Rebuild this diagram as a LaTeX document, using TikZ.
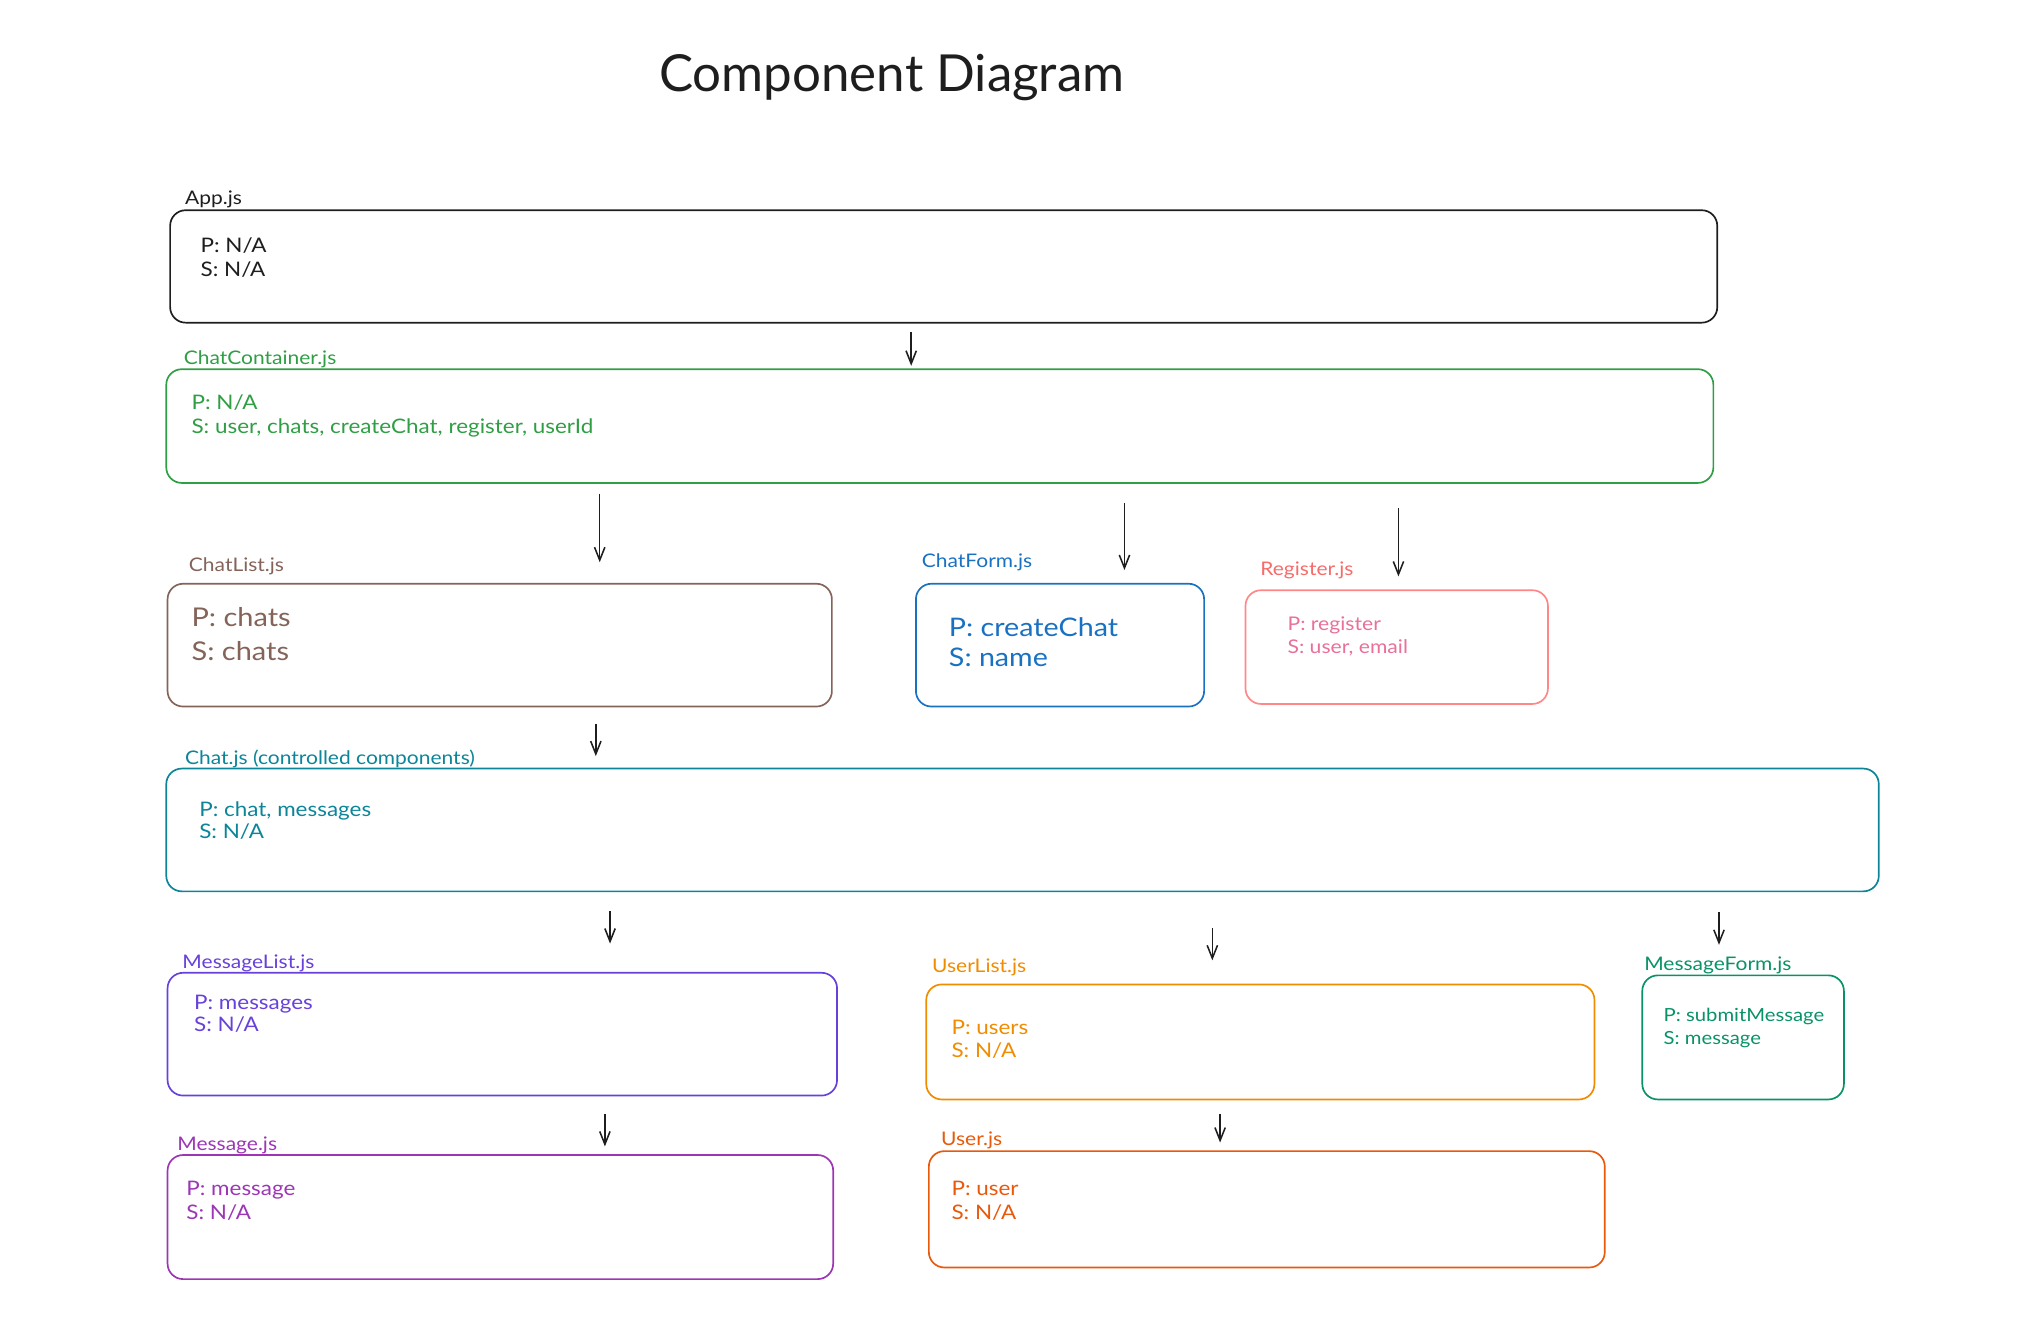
\documentclass[tikz,border=0pt]{standalone}
\usepackage{fontspec}
\setmainfont{Lato}[FakeStretch=1.12]
\newfontfamily\titlefont{Lato}
\usetikzlibrary{positioning, arrows.meta}
\usepackage{xcolor}

\definecolor{cBlack}{HTML}{1E1E1E}
\definecolor{cGreen}{HTML}{2F9E44}
\definecolor{cBrown}{HTML}{846358}
\definecolor{cBlue}{HTML}{1971C2}
\definecolor{cRed}{HTML}{FF8787}
\definecolor{cRedLbl}{HTML}{F76B6B}
\definecolor{cPink}{HTML}{E8709A}
\definecolor{cTeal}{HTML}{0C8599}
\definecolor{cViolet}{HTML}{6741D9}
\definecolor{cOrange}{HTML}{F08C00}
\definecolor{cSea}{HTML}{099268}
\definecolor{cGrape}{HTML}{9C36B5}
\definecolor{cRust}{HTML}{E8590C}

\begin{document}
\begin{tikzpicture}[x=1pt, y=-1pt,
        box/.style={draw=#1, rounded corners=12pt, line width=1.3pt, inner sep=0pt, anchor=north west},
        lbl/.style={text=#1, font=\fontsize{14.5}{16}\selectfont, inner sep=0pt},
        body/.style={text=#1, font=\fontsize{15.5}{18}\selectfont, align=left, inner sep=0pt},
        arr/.style={-{Straight Barb[length=10pt,width=8pt]}, line width=1.2pt, cBlack}]
            \useasboundingbox (0,0) rectangle (1566,1033.7);
            \node[font=\titlefont\fontsize{39.5}{44}\selectfont, text=cBlack] (title) at (690,60) {Component Diagram};

            % top level
            \node[box=cBlack, minimum width=1197pt, minimum height=87pt] (app) at (131,162) {};
            \node[lbl=cBlack, above right=1pt and 12pt of app.north west] (appL) {App.js};
            \node[body=cBlack, below right=22pt and 24pt of app.north west] (appT) {P: N/A\\S: N/A};

            \node[box=cGreen, minimum width=1197pt, minimum height=88pt] (cc) at (128,285) {};
            \node[lbl=cGreen, above right=0pt and 14pt of cc.north west] (ccL) {ChatContainer.js};
            \node[body=cGreen, font=\fontsize{15.5}{19}\selectfont, below right=20pt and 20pt of cc.north west] (ccT) {P: N/A\\S: user, chats, createChat, register, userId};

            % second row
            \node[box=cBrown, minimum width=514pt, minimum height=95pt] (clist) at (129,451) {};
            \node[lbl=cBrown, above right=6pt and 17pt of clist.north west] (clistL) {ChatList.js};
            \node[body=cBrown, font=\fontsize{20}{26}\selectfont, below right=19pt and 19pt of clist.north west] (clistT) {P: chats\\S: chats};

            \node[box=cBlue, minimum width=223pt, minimum height=95pt] (cform) at (708,451) {};
            \node[lbl=cBlue, above right=9pt and 5pt of cform.north west] (cformL) {ChatForm.js};
            \node[body=cBlue, font=\fontsize{19.8}{23}\selectfont, below right=27pt and 26pt of cform.north west] (cformT) {P: createChat\\S: name};

            \node[box=cRed, minimum width=234pt, minimum height=88pt] (reg) at (963,456) {};
            \node[lbl=cRedLbl, above right=8pt and 12pt of reg.north west] (regL) {Register.js};
            \node[body=cPink, font=\fontsize{14.6}{18}\selectfont, below right=21pt and 33pt of reg.north west] (regT) {P: register\\S: user, email};

            % chat
            \node[box=cTeal, minimum width=1325pt, minimum height=95pt] (chat) at (128,594) {};
            \node[lbl=cTeal, above right=0pt and 15pt of chat.north west] (chatL) {Chat.js (controlled components)};
            \node[body=cTeal, font=\fontsize{15.5}{17}\selectfont, below right=26pt and 26pt of chat.north west] (chatT) {P: chat, messages\\S: N/A};

            % bottom rows
            \node[box=cViolet, minimum width=518pt, minimum height=95pt] (mlist) at (129,752) {};
            \node[lbl=cViolet, above right=0pt and 12pt of mlist.north west] (mlistL) {MessageList.js};
            \node[body=cViolet, font=\fontsize{15.5}{17}\selectfont, below right=18pt and 21pt of mlist.north west] (mlistT) {P: messages\\S: N/A};

            \node[box=cOrange, minimum width=517pt, minimum height=89pt] (ulist) at (716,761) {};
            \node[lbl=cOrange, above right=6pt and 5pt of ulist.north west] (ulistL) {UserList.js};
            \node[body=cOrange, below right=28pt and 20pt of ulist.north west] (ulistT) {P: users\\S: N/A};

            \node[box=cSea, minimum width=156pt, minimum height=96pt] (mform) at (1270,754) {};
            \node[lbl=cSea, above right=0pt and 2pt of mform.north west] (mformL) {MessageForm.js};
            \node[body=cSea, font=\fontsize{14}{18}\selectfont, below right=26pt and 17pt of mform.north west] (mformT) {P: submitMessage\\S: message};

            \node[box=cGrape, minimum width=515pt, minimum height=96pt] (msg) at (129,893) {};
            \node[lbl=cGrape, above right=0pt and 8pt of msg.north west] (msgL) {Message.js};
            \node[body=cGrape, below right=21pt and 15pt of msg.north west] (msgT) {P: message\\S: N/A};

            \node[box=cRust, minimum width=523pt, minimum height=90pt] (user) at (718,890) {};
            \node[lbl=cRust, above right=1pt and 10pt of user.north west] (userL) {User.js};
            \node[body=cRust, below right=24pt and 18pt of user.north west] (userT) {P: user\\S: N/A};

            % arrows
            \coordinate (s1) at (705,257);  \coordinate (e1) at (705,283);
            \coordinate (s2) at (464,382);  \coordinate (e2) at (464,435);
            \coordinate (s3) at (870,389);  \coordinate (e3) at (870,441);
            \coordinate (s4) at (1082,393); \coordinate (e4) at (1082,446);
            \coordinate (s5) at (461,560);  \coordinate (e5) at (461,585);
            \coordinate (s6) at (472,705);  \coordinate (e6) at (472,730);
            \coordinate (s7) at (938,718);  \coordinate (e7) at (938,743);
            \coordinate (s8) at (1330,706); \coordinate (e8) at (1330,731);
            \coordinate (s9) at (468,862);  \coordinate (e9) at (468,887);
            \coordinate (s10) at (944,862); \coordinate (e10) at (944,884);
            \draw[arr] (s1) -- (e1);
            \draw[arr] (s2) -- (e2);
            \draw[arr] (s3) -- (e3);
            \draw[arr] (s4) -- (e4);
            \draw[arr] (s5) -- (e5);
            \draw[arr] (s6) -- (e6);
            \draw[arr] (s7) -- (e7);
            \draw[arr] (s8) -- (e8);
            \draw[arr] (s9) -- (e9);
            \draw[arr] (s10) -- (e10);
        \end{tikzpicture}
\end{document}
